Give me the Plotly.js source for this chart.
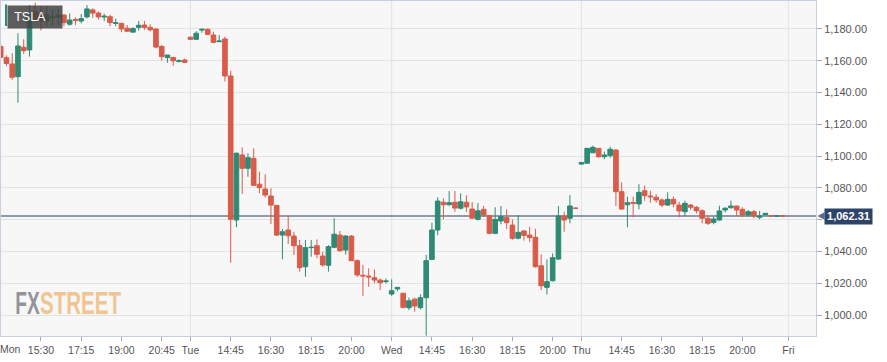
<!DOCTYPE html>
<html><head><meta charset="utf-8">
<script src="https://cdn.plot.ly/plotly-3.0.1.min.js"></script>
<style>html,body{margin:0;padding:0;background:#fff;}#chart{width:887px;height:362px;}</style>
</head><body><div id="chart"></div>
<script>
// Trading sessions (15-minute candles)
const sessions = [["Mon","13:45","21:45"],["Tue","13:00","21:30"],["Wed","13:00","21:00"],["Thu","13:00","21:45"]];

const open = [
1169,1161.9,1158,1150,1168.5,1166.8,1191,1189,1185,1187,1187.5,1188.8,1183,1186,1185,1187.6,1192,1190,1187.5,1187.7,1183.5,1183.5,1180.5,1178,1181,1182.5,1181,1180,1169,1162,1162,1159.5,1160.5,
1174.8,1173.5,1179.3,1179.8,1176.2,1172,1173.7,1150.4,1059.8,1100.7,1092.3,1098.6,1082.3,1079.3,1074.9,1069,1050.3,1053.5,1049.7,1043.6,1030.4,1042.4,1043.6,1037.1,1031.3,1042.6,1050.3,1040.9,1049.7,1034.2,1025,1024.5,1023.5,1022,1021,
1013.2,1016.4,1013.7,1004.6,1010,1004.6,1010.9,1035,1053.5,1071,1069.4,1071,1067.2,1071,1066.7,1060.2,1066.5,1062.5,1051.4,1059.2,1061.3,1056.6,1048.3,1052.9,1050.3,1048.9,1031,1017.4,1021.6,1035.2,1062.3,1060.9,1067.2,
1095,1095.5,1102.1,1104.9,1099.6,1100.3,1103.8,1077.6,1069.4,1070.8,1069.9,1078.2,1074.9,1074.1,1072.4,1069.2,1072.8,1069.2,1065,1069.2,1067.8,1065.6,1060.9,1058.3,1059.8,1066.1,1067.5,1068.6,1066.5,1062.9,1065,1061.5,1063,1062.4,1062.2,1062.4];
const high = [
1170.5,1163.4,1164.8,1177.3,1173.5,1195,1196.5,1194,1194,1192,1192.5,1189.2,1189.8,1187.3,1189.4,1195,1193,1191,1189.6,1189,1186.5,1184,1182.5,1181,1185,1185,1183,1180.5,1170,1163.6,1162.6,1161,1161.4,
1175.2,1178.6,1180.3,1180.3,1178.3,1176.2,1175.2,1153.6,1102.2,1105.5,1101.8,1104.9,1090.2,1088.5,1079.7,1069.2,1054.1,1062.3,1052.4,1047.2,1047.2,1047.2,1047.6,1039.8,1044,1060.9,1052.9,1050.3,1050.3,1035,1031.5,1029.4,1028.7,1023,1023,
1022.5,1017.4,1014,1011,1010.9,1013,1037.8,1058.1,1074,1073.4,1078,1078,1076.6,1075.3,1071,1070.4,1068.6,1063,1067.8,1068.6,1066.5,1060.2,1062.9,1053.5,1055.6,1054.3,1038.2,1035,1038.8,1068.6,1065,1075.5,1067.5,
1096.2,1105,1106.6,1105,1102.8,1105.9,1104.3,1083.5,1074.5,1074.5,1082.3,1081.4,1078.2,1076.1,1073.4,1077.2,1074.5,1071.3,1072,1069.9,1068.6,1066.5,1061.9,1061.9,1068.8,1067.8,1072,1068.6,1067.8,1066.1,1066.1,1065.5,1064,1062.4,1062.4,1062.4];
const low = [
1161.5,1156.6,1148,1133.6,1164.3,1162.6,1184,1179,1182,1182,1183,1181.7,1182,1182.6,1183.5,1186.7,1187,1186,1185,1181.7,1181.7,1178,1178,1178,1179,1179.5,1178.5,1167.8,1160,1158.8,1156.8,1159,1158.7,
1173,1173,1177.6,1176,1171,1172,1146.9,1032.9,1055.2,1076.2,1087,1081.2,1076.6,1074,1057.3,1049.7,1035,1044.7,1037.8,1027.3,1024.1,1036.7,1035.7,1030.4,1027.3,1042,1039.8,1038,1034,1024,1012,1017.8,1020,1015.7,1020,
1012,1015,1004.2,1003.1,1002.1,1003.5,987,1034.6,1050.3,1060.2,1068.8,1065,1066.4,1065,1060.9,1059.5,1061.6,1050.9,1050.9,1057.1,1054.1,1047.4,1047.6,1046.8,1046.1,1029.8,1015.7,1013,1021,1034.6,1052.4,1057.7,1067,
1094.6,1095.2,1101.8,1099,1098,1099,1068.6,1066.1,1055.2,1061.5,1066.5,1071.9,1070.7,1070.7,1067.8,1068.6,1067.8,1061.5,1062.3,1066.1,1063.9,1057.7,1056.6,1057.1,1059.3,1064.5,1067,1062.3,1061.5,1061.9,1060.9,1060.2,1063,1062.4,1062.2,1062.31];
const close = [
1162.2,1158.3,1149.6,1169.3,1166.3,1190,1186,1185,1189,1187.4,1188.5,1184,1185.6,1185.5,1186.5,1192.6,1190,1187.6,1188,1184,1184,1180,1178.6,1180.3,1182.3,1181,1179.5,1168.6,1162.6,1163.6,1160,1160,1159,
1173.5,1177.3,1179.8,1176.6,1171.6,1172.4,1150.4,1060.2,1101.8,1092.3,1099,1081.6,1080.1,1075.5,1069.2,1050.3,1052.4,1049.9,1043.6,1029.8,1042.4,1042.6,1038.2,1031.5,1043,1050.8,1040.5,1049.7,1034.2,1025.2,1024.6,1024,1022,1020.3,1021.4,
1015.3,1017.4,1004.8,1009,1005.7,1010.9,1034.2,1053.5,1071.7,1069.4,1070.7,1067.3,1071.3,1068,1060.9,1065.6,1062.9,1051.4,1060.2,1061.9,1058.1,1048.3,1052,1050.1,1048.7,1030.4,1018.4,1021,1036.1,1062.3,1059.8,1068.6,1067.2,
1096,1104.9,1105.5,1099.6,1100.7,1104.3,1077.6,1066.7,1070.7,1070.3,1077.2,1075.1,1074.4,1072.4,1069.2,1072.8,1069.9,1065.5,1070.3,1067.8,1065.6,1060.9,1057.7,1060.4,1065.5,1067.2,1068.6,1066.1,1062.9,1065,1062.3,1062.3,1064,1062.4,1062.4,1062.31];

const tickTimes = ["Mon 15:30","Mon 17:15","Mon 19:00","Mon 20:45","Tue 13:00","Tue 14:45","Tue 16:30","Tue 18:15","Tue 20:00","Wed 13:00","Wed 14:45","Wed 16:30","Wed 18:15","Wed 20:00","Thu 13:00","Thu 14:45","Thu 16:30","Thu 18:15","Thu 20:00","Fri 13:00"];
const tickText = ["15:30","17:15","19:00","20:45","Tue","14:45","16:30","18:15","20:00","Wed","14:45","16:30","18:15","20:00","Thu","14:45","16:30","18:15","20:00","Fri"];
const priceTicks = [1000,1020,1040,1060,1080,1100,1120,1140,1160,1180];
const dayStarts = ["Tue 13:00","Wed 13:00","Thu 13:00","Fri 13:00"];
const symbol = "TSLA";
const firstDay = "Mon";
const logoParts = ["FX","STREET"];

function toMin(s){const p=s.split(':').map(Number);return p[0]*60+p[1];}
function fmt(m){return String(Math.floor(m/60)).padStart(2,'0')+':'+String(m%60).padStart(2,'0');}
const times = [];
sessions.forEach(function(s){for(let m=toMin(s[1]);m<=toMin(s[2]);m+=15) times.push(s[0]+' '+fmt(m));});
const slots = times.concat(["Fri 13:00"]);
const x = times.map(function(t){return slots.indexOf(t);});
const tickvals = tickTimes.map(function(t){return slots.indexOf(t);});
const last = close[close.length-1];
const money = function(v){return v.toLocaleString('en-US',{minimumFractionDigits:2,maximumFractionDigits:2});};
const lastText = money(last);
// tick labels hidden under the last-price box are left blank
const priceTickText = priceTicks.map(function(v){return Math.abs(v-last) < 6 ? '' : money(v);});

const GREEN = '#2e8a74', RED = '#d95b49', NAVY = '#2c4468';
const trace = {
  type:'candlestick', x:x, open:open, high:high, low:low, close:close,
  increasing:{line:{color:GREEN,width:1},fillcolor:GREEN},
  decreasing:{line:{color:RED,width:1},fillcolor:RED},
  whiskerwidth:0, hoverinfo:'skip', name:symbol
};

const px = function(p){return (p-1)/815;};
const py = function(p){return 1-(p-1)/335;};

const shapes = [];
dayStarts.forEach(function(d){
  const i = slots.indexOf(d);
  shapes.push({type:'line',layer:'below',xref:'x',yref:'paper',x0:i,x1:i,y0:0,y1:1,line:{color:'#e2e2e2',width:1}});
});
shapes.push({type:'line',layer:'below',xref:'paper',yref:'y',x0:0,x1:1,y0:last,y1:last,line:{color:'#2c3e5f',width:1.2}});
shapes.push({type:'rect',layer:'above',xref:'paper',yref:'paper',x0:px(5),x1:px(7),y0:py(26),y1:py(4.5),fillcolor:GREEN,line:{width:0}});
shapes.push({type:'path',layer:'above',xref:'paper',yref:'y',path:'M '+px(817.5)+' '+last+' L '+px(824.5)+' '+(last+2.4)+' L '+px(824.5)+' '+(last-2.4)+' Z',fillcolor:'#5a6a88',line:{width:0}});

const annotations = [
  {xref:'paper',yref:'paper',x:px(7),y:py(4.5),xanchor:'left',yanchor:'top',width:52,height:19.5,borderpad:1,
   bgcolor:'rgba(66,66,66,0.85)',text:symbol+'\u00a0\u00a0\u00a0',showarrow:false,font:{size:12.5,color:'#ffffff'}},
  {xref:'paper',yref:'y',x:px(824.3),y:last,xanchor:'left',yanchor:'middle',width:45,height:12.5,borderpad:1,
   bgcolor:NAVY,text:'<b>'+lastText+'</b>',showarrow:false,font:{size:11,color:'#ffffff'}},
  {xref:'paper',yref:'paper',x:0,y:0,xanchor:'left',yanchor:'top',xshift:-3,yshift:-5,text:firstDay,showarrow:false,font:{size:10.5,color:'#555'}},
  {xref:'paper',yref:'paper',x:px(27.5),y:py(303),xanchor:'center',yanchor:'middle',
   text:'<b>'+logoParts[0]+'</b>',showarrow:false,font:{size:19.5,color:'rgba(136,138,145,0.92)',family:'"Liberation Sans", Arial, sans-serif'}},
  {xref:'paper',yref:'paper',x:px(80.8),y:py(303),xanchor:'center',yanchor:'middle',
   text:'<b>'+logoParts[1]+'</b>',showarrow:false,font:{size:19.5,color:'rgba(241,190,132,0.9)',family:'"Liberation Sans", Arial, sans-serif'}}
];
const logoWidths = {FX:24.5, STREET:81};
const logoStretch = 1.62;

const layout = {
  width:887,height:362,margin:{l:1,r:71,t:1,b:26},
  paper_bgcolor:'#ffffff',plot_bgcolor:'#f7f7f7',showlegend:false,
  boxgap:0.2,boxgroupgap:0,
  font:{family:'"Liberation Sans", Arial, sans-serif',color:'#555'},
  xaxis:{type:'linear',range:[0.05,141.8],rangeslider:{visible:false},showgrid:false,zeroline:false,
    showline:true,mirror:true,linecolor:'#c9cfe2',linewidth:1,ticks:'outside',ticklen:4,tickcolor:'#aaa',
    tickmode:'array',tickvals:tickvals,ticktext:tickText,tickfont:{size:10.5,color:'#555'},automargin:false,fixedrange:true},
  yaxis:{side:'right',range:[986.8,1197.6],tickmode:'array',tickvals:priceTicks,ticktext:priceTickText,showgrid:true,gridcolor:'#e3e3e3',zeroline:false,
    showline:true,mirror:true,linecolor:'#c9cfe2',linewidth:1,ticks:'outside',ticklen:5,tickcolor:'#aaa',
    tickfont:{size:11,color:'#555'},automargin:false,fixedrange:true},
  shapes:shapes,annotations:annotations
};
Plotly.newPlot('chart',[trace],layout,{displayModeBar:false,staticPlot:true}).then(function(){
  document.querySelectorAll('.annotation-text').forEach(function(el){
    const w = logoWidths[el.textContent];
    if(w){
      el.setAttribute('textLength',String(w));
      el.setAttribute('lengthAdjust','spacingAndGlyphs');
      const b = el.getBBox();
      const cy = b.y + b.height/2;
      const prev = el.getAttribute('transform') || '';
      el.setAttribute('transform', prev+' translate(0,'+cy+') scale(1,'+logoStretch+') translate(0,'+(-cy)+')');
    }
  });
});
</script></body></html>
